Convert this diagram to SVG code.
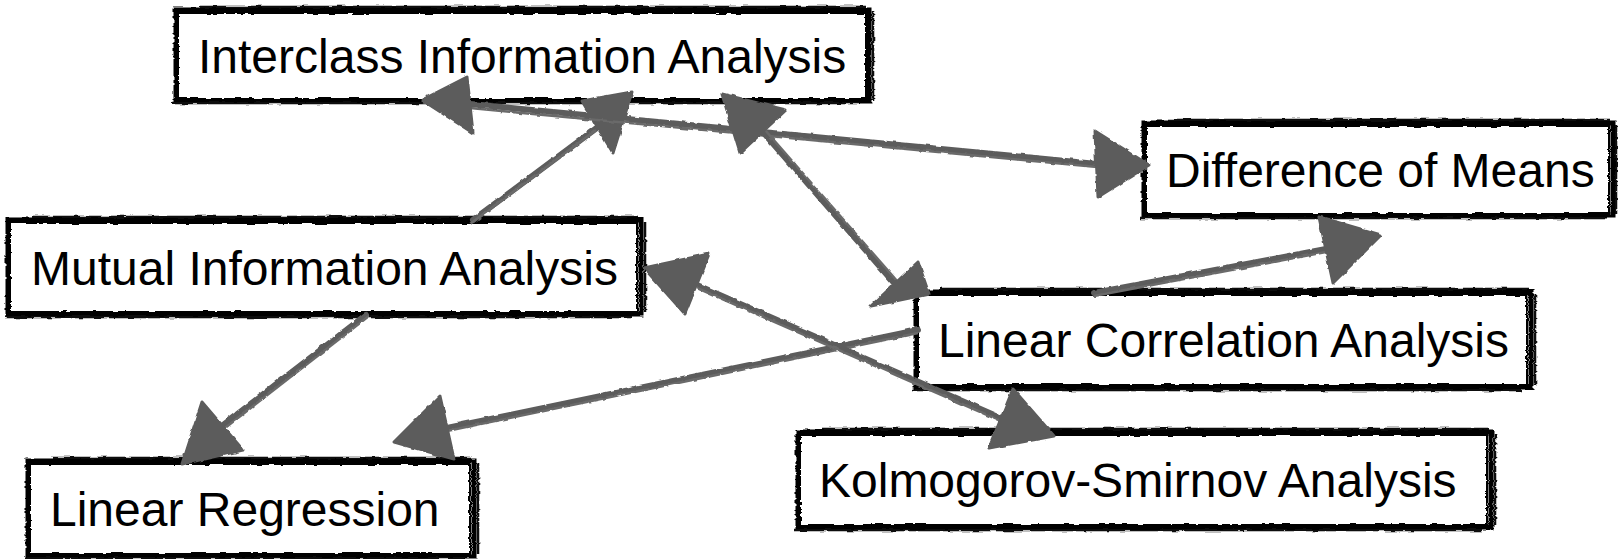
<svg xmlns="http://www.w3.org/2000/svg" width="1618" height="559" viewBox="0 0 1618 559">
<defs>
<filter id="rough" x="-5%" y="-20%" width="110%" height="140%">
<feTurbulence type="fractalNoise" baseFrequency="0.09 0.35" numOctaves="2" seed="3" result="n"/>
<feDisplacementMap in="SourceGraphic" in2="n" scale="3.5" xChannelSelector="R" yChannelSelector="G"/>
</filter>
<filter id="roughl" x="-5%" y="-20%" width="110%" height="140%">
<feTurbulence type="fractalNoise" baseFrequency="0.12" numOctaves="2" seed="7" result="n"/>
<feDisplacementMap in="SourceGraphic" in2="n" scale="3" xChannelSelector="R" yChannelSelector="G"/>
</filter>
</defs>
<style>
.bg{fill:#ffffff;stroke:none}
.b1{fill:none;stroke:#000;stroke-width:2}
.b2{fill:none;stroke:#000;stroke-width:5}
.b3{fill:none;stroke:#111;stroke-width:2.5}
.lbl{font-family:"Liberation Sans",Arial,sans-serif;font-size:48px;fill:#000}
.edge{fill:none;stroke:#5c5c5c;stroke-width:6;stroke-linecap:round}
.edge2{fill:none;stroke:#6a6a6a;stroke-width:2.5}
.head{fill:#5c5c5c;stroke:#5c5c5c;stroke-width:3;stroke-linejoin:round}
</style>
<rect width="1618" height="559" fill="#ffffff"/>

<g id="n-interclass">
<rect class="bg" x="178" y="12" width="690" height="88"/>
<g filter="url(#rough)"><rect class="b1" x="178" y="13" width="688" height="86"/><rect class="b2" x="176" y="10" width="693" height="91"/><path class="b3" d="M200,7 H866 M172,103 H860 M873,12 V100"/></g>
<text class="lbl" x="198" y="73">Interclass Information Analysis</text>
</g>
<g id="n-difference">
<rect class="bg" x="1146" y="125" width="466" height="90"/>
<g filter="url(#rough)"><rect class="b1" x="1146" y="126" width="463" height="88"/><rect class="b2" x="1144" y="123" width="469" height="93"/><path class="b3" d="M1168,120 H1610 M1140,218 H1605 M1616,125 V214"/></g>
<text class="lbl" x="1166" y="187">Difference of Means</text>
</g>
<g id="n-mutual">
<rect class="bg" x="10" y="222" width="630" height="91"/>
<g filter="url(#rough)"><rect class="b1" x="10" y="223" width="627" height="89"/><rect class="b2" x="8" y="220" width="633" height="94"/><path class="b3" d="M32,217 H638 M5,317 H632 M645,222 V312"/></g>
<text class="lbl" x="31" y="285">Mutual Information Analysis</text>
</g>
<g id="n-linearcorr">
<rect class="bg" x="918" y="294" width="612" height="92"/>
<g filter="url(#rough)"><rect class="b1" x="918" y="295" width="609" height="90"/><rect class="b2" x="916" y="292" width="615" height="95"/><path class="b3" d="M940,289 H1528 M912,390 H1522 M1535,294 V385"/></g>
<text class="lbl" x="938" y="357">Linear Correlation Analysis</text>
</g>
<g id="n-ks">
<rect class="bg" x="800" y="434" width="690" height="92"/>
<g filter="url(#rough)"><rect class="b1" x="800" y="435" width="687" height="90"/><rect class="b2" x="798" y="432" width="693" height="95"/><path class="b3" d="M822,429 H1488 M794,530 H1482 M1495,434 V525"/></g>
<text class="lbl" x="819" y="497">Kolmogorov-Smirnov Analysis</text>
</g>
<g id="n-linearreg">
<rect class="bg" x="30" y="463" width="443" height="92"/>
<g filter="url(#rough)"><rect class="b1" x="30" y="464" width="440" height="90"/><rect class="b2" x="28" y="461" width="446" height="95"/><path class="b3" d="M52,458 H471 M25,558 H465 M478,463 V554"/></g>
<text class="lbl" x="50" y="526">Linear Regression</text>
</g>

<g id="connectors" filter="url(#roughl)">
<!-- Mutual Information Analysis -> Interclass Information Analysis -->
<line class="edge" x1="473" y1="220" x2="598" y2="127"/>
<line class="edge2" x1="470" y1="224" x2="596" y2="130"/>
<polygon class="head" points="632,92 582,101 613,153"/>
<!-- Interclass <-> Difference of Means -->
<line class="edge" x1="470" y1="104" x2="1097" y2="164"/>
<line class="edge2" x1="470" y1="108" x2="1097" y2="167"/>
<polygon class="head" points="422,100 467,77 473,133"/>
<polygon class="head" points="1149,165 1095,131 1098,197"/>
<!-- Interclass <-> Linear Correlation -->
<line class="edge" x1="762" y1="131" x2="895" y2="284"/>
<line class="edge2" x1="765" y1="130" x2="898" y2="282"/>
<polygon class="head" points="722,94 786,110 740,153"/>
<polygon class="head" points="929,294 918,262 871,306"/>
<!-- Linear Correlation -> Difference of Means -->
<line class="edge" x1="1094" y1="293" x2="1326" y2="249"/>
<line class="edge2" x1="1094" y1="296" x2="1326" y2="252"/>
<polygon class="head" points="1381,235 1319,217 1333,283"/>
<!-- Mutual -> Linear Regression -->
<line class="edge" x1="366" y1="315" x2="222" y2="426"/>
<line class="edge2" x1="369" y1="316" x2="225" y2="428"/>
<polygon class="head" points="182,464 202,402 243,450"/>
<!-- Linear Correlation -> Linear Regression -->
<line class="edge" x1="918" y1="330" x2="447" y2="428"/>
<line class="edge2" x1="918" y1="333" x2="447" y2="431"/>
<polygon class="head" points="394,442 440,396 454,459"/>
<!-- Mutual <-> Kolmogorov-Smirnov -->
<line class="edge" x1="697" y1="285" x2="1001" y2="418"/>
<line class="edge2" x1="697" y1="288" x2="1001" y2="421"/>
<polygon class="head" points="644,268 709,254 685,314"/>
<polygon class="head" points="1054,436 1013,389 989,448"/>
</g>
</svg>
